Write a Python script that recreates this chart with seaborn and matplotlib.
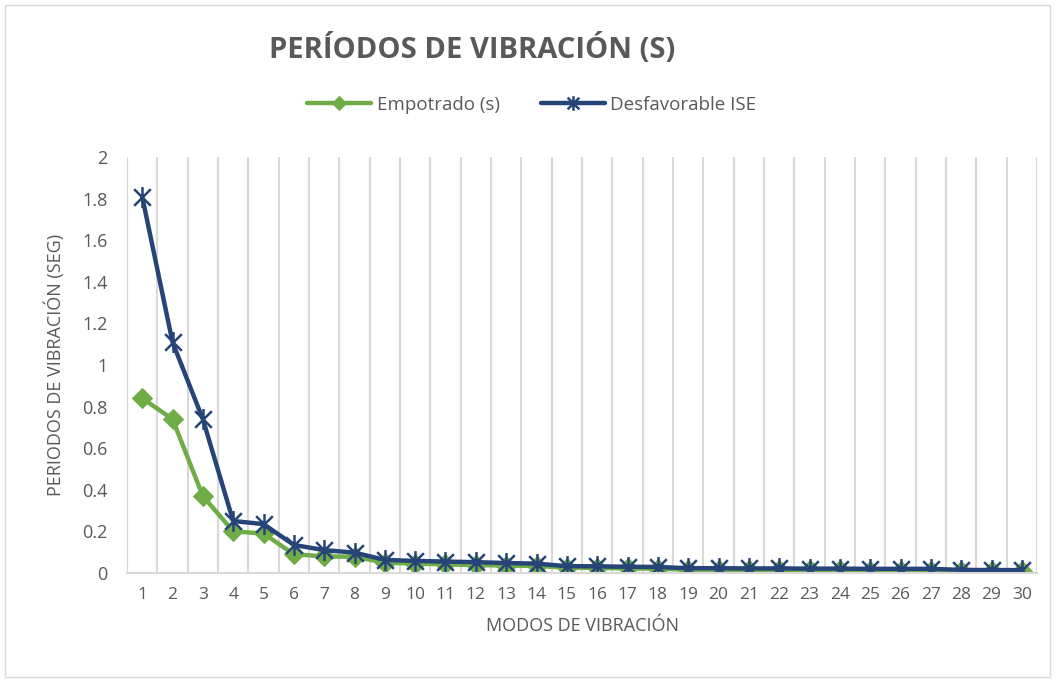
import matplotlib
matplotlib.use("Agg")
import matplotlib.pyplot as plt
import seaborn as sns
import pandas as pd
from matplotlib.path import Path
from matplotlib.patches import Rectangle

modos = list(range(1, 31))
empotrado = [0.84, 0.74, 0.37, 0.20, 0.19, 0.09, 0.08, 0.078, 0.05, 0.045,
             0.042, 0.038, 0.036, 0.034, 0.026, 0.025, 0.022, 0.021, 0.016, 0.016,
             0.015, 0.014, 0.013, 0.013, 0.012, 0.011, 0.011, 0.009, 0.008, 0.008]
desfavorable = [1.81, 1.11, 0.74, 0.25, 0.235, 0.135, 0.11, 0.098, 0.063, 0.058,
                0.055, 0.052, 0.048, 0.045, 0.033, 0.032, 0.03, 0.029, 0.023, 0.023,
                0.022, 0.022, 0.021, 0.021, 0.02, 0.02, 0.02, 0.015, 0.014, 0.014]
y_ticks = [0, 0.2, 0.4, 0.6, 0.8, 1, 1.2, 1.4, 1.6, 1.8, 2]
y_labels = ["0", "0.2", "0.4", "0.6", "0.8", "1", "1.2", "1.4", "1.6", "1.8", "2"]

df = pd.DataFrame({"modo": modos, "Empotrado (s)": empotrado,
                   "Desfavorable ISE": desfavorable})

sns.set_style("white")
plt.rcParams["font.family"] = ["Open Sans", "DejaVu Sans"]
gray = "#595959"
green = "#70AD47"
blue = "#264478"

# star marker: X with a vertical bar (Excel style)
star = Path([(-1, -1), (1, 1), (-1, 1), (1, -1), (0, -1.25), (0, 1.25)],
            [Path.MOVETO, Path.LINETO, Path.MOVETO, Path.LINETO, Path.MOVETO, Path.LINETO])

fig = plt.figure(figsize=(10.57, 6.8), dpi=100)
fig.patches.append(Rectangle((5 / 1057, 3 / 680), 1045 / 1057, 672 / 680,
                             transform=fig.transFigure, fill=False,
                             edgecolor="#d9d9d9", linewidth=1))
ax = fig.add_axes([127 / 1057, 1 - 573 / 680, 910 / 1057, 416 / 680])

sns.lineplot(data=df, x="modo", y="Empotrado (s)", ax=ax, color=green,
             linewidth=3.2, marker="D", markersize=10, markeredgecolor=green,
             label="Empotrado (s)")
sns.lineplot(data=df, x="modo", y="Desfavorable ISE", ax=ax, color=blue,
             linewidth=3.2, marker=star, markersize=15, markeredgewidth=1.8,
             markeredgecolor=blue, markerfacecolor="none",
             label="Desfavorable ISE")

ax.set_xlim(0.5, 30.5)
ax.set_ylim(0, 2)
ax.set_xticks(modos)
ax.set_xticklabels([str(m) for m in modos], fontsize=12.5, color=gray)
ax.set_xticks([m + 0.5 for m in range(0, 31)], minor=True)
ax.set_yticks(y_ticks)
ax.set_yticklabels(y_labels, fontsize=13, color=gray)
ax.tick_params(axis="both", which="both", length=0)
ax.tick_params(axis="x", pad=10)
ax.tick_params(axis="y", pad=14)
ax.grid(False)
ax.grid(True, which="minor", axis="x", color="#d9d9d9", linewidth=1.5)
for s in ["top", "right"]:
    ax.spines[s].set_visible(False)
ax.spines["left"].set_color("#d9d9d9")
ax.spines["bottom"].set_color("#d9d9d9")
ax.spines["bottom"].set_linewidth(1.5)

ax.set_xlabel("MODOS DE VIBRACIÓN", fontsize=13, color=gray, labelpad=10)
ax.set_ylabel("PERIODOS DE VIBRACIÓN (SEG)", fontsize=13, color=gray, labelpad=12)

handles, labels = ax.get_legend_handles_labels()
ax.get_legend().remove()
fig.legend(handles, labels, loc="center", bbox_to_anchor=(532 / 1057, 1 - 105 / 680),
           ncol=2, frameon=False, fontsize=13.5, labelcolor=gray,
           handlelength=3.4, columnspacing=2.2, handletextpad=0.3, markerscale=0.7)

fig.text(472 / 1057, 1 - 50 / 680, "PERÍODOS DE VIBRACIÓN (S)", ha="center",
         va="center", fontsize=21, fontweight="bold", color=gray)

fig.savefig("out.png", dpi=100)
